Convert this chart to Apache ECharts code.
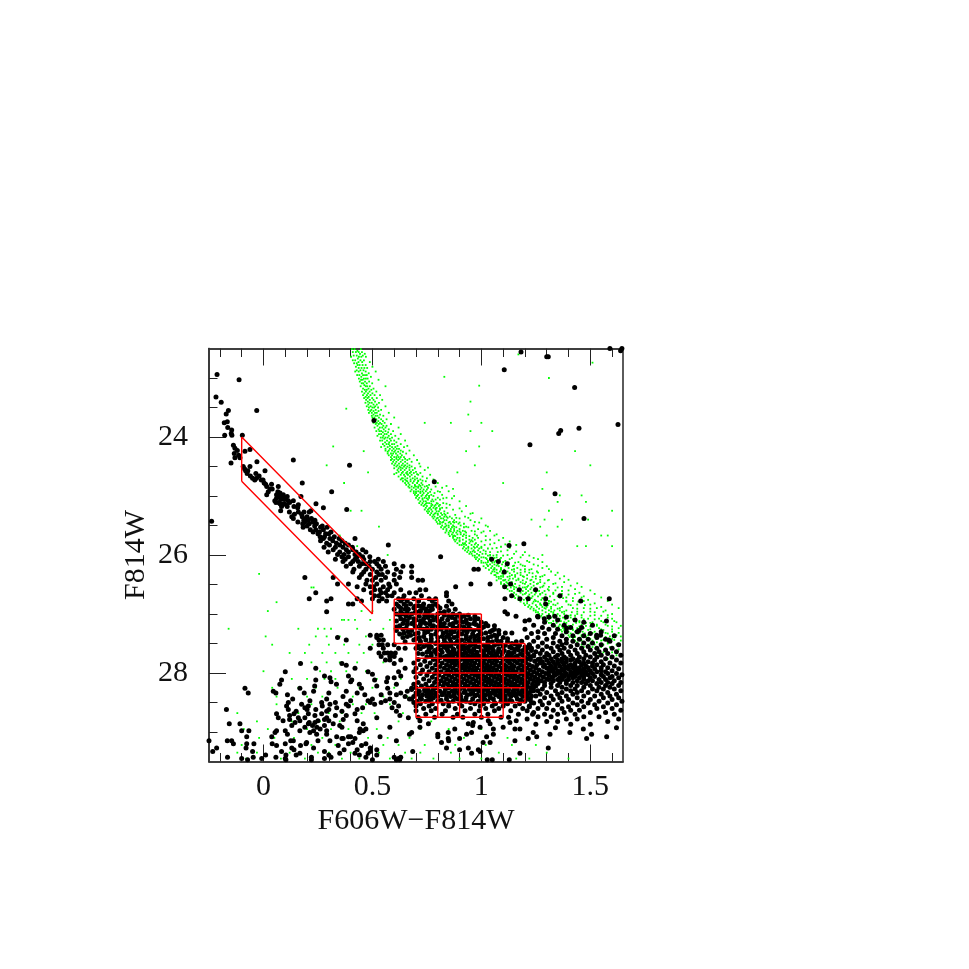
<!DOCTYPE html>
<html><head><meta charset="utf-8">
<style>html,body{margin:0;background:#fff}#c{width:969px;height:969px}</style>
<script src="https://cdn.jsdelivr.net/npm/echarts@6/dist/echarts.min.js"></script>
</head><body><div id="c"></div>
<script>
const xMajor=[0,0.5,1,1.5];
const xMinor=[-0.2,-0.1,0.1,0.2,0.3,0.4,0.6,0.7,0.8,0.9,1.1,1.2,1.3,1.4,1.6];
const yMajor=[24,26,28];
const yMinor=[23,23.5,24.5,25,25.5,26.5,27,27.5,28.5,29];
const xTitle='F606W\u2212F814W', yTitle='F814W';

// rows are [F814W, [F606W-F814W ...]]
const isolatedRows=[
[22.5,[1.59,1.645]],[22.54,[1.639]],[22.56,[1.182]],[22.64,[1.307,1.3]],[22.86,[1.105]],[23.16,[1.428]],[23.72,[.507]],[23.79,[1.627]],[23.85,[1.448]],[23.89,[1.364]],[23.94,[1.355]],[24.13,[1.223]],[24.76,[.784]],[24.96,[1.338]],[25.23,[.382]],[25.38,[1.471]],[25.43,[-.238]],[25.81,[1.195]],[25.84,[1.127]]
];
const plumeRows=[
[22.94,[-.213]],[23.03,[-.112]],[23.32,[-.218]],[23.41,[-.194]],[23.55,[-.161,-.031]],[23.61,[-.171]],[23.74,[-.166]],[23.76,[-.18]],[23.84,[-.164]],[23.88,[-.146]],[23.94,[-.148]],[23.97,[-.178,-.145,-.097]],
[24.14,[-.138]],[24.19,[-.131]],[24.21,[-.062]],[24.23,[-.12]],[24.24,[-.085]],[24.28,[-.134]],[24.31,[-.114]],[24.35,[-.131,-.108]],[24.39,[.137]],[24.42,[-.03]],[24.44,[-.149]],[24.48,[.395]],[24.5,[-.093,-.062]],[24.54,[-.087]],[24.57,[-.082,-.072,.007]],[24.62,[-.075,-.035]],[24.66,[-.06,-.02]],[24.7,[-.05,-.032]],[24.73,[-.04,-.01,-.002]],[24.78,[.003,.178]],[24.8,[.01,.037]],[24.84,[.015,.068]],[24.88,[.03,.04]],[24.93,[.022,.066,.313]],[24.95,[.076]],[24.98,[.015,.091,.06]],[25.01,[.109,.074,.172]],[25.04,[.06,.085,.1]],[25.06,[.08,.098]],[25.08,[.114,.137,.052]],[25.11,[.057,.07,.12]],[25.13,[.076,.094,.241]],[25.15,[.16,.105]],[25.18,[.083,.109,.14]],[25.2,[.275,.157]],[25.25,[.079,.218]],[25.27,[.119,.16,.186,.21]],[25.31,[.142,.175]],[25.35,[.13,.178,.2]],[25.38,[.137,.22,.195]],[25.41,[.185,.205,.236]],[25.44,[.158,.19,.226]],[25.47,[.18,.21,.243]],[25.51,[.2,.235,.27]],[25.53,[.182,.262,.292]],[25.57,[.215,.24,.275]],[25.61,[.228,.257,.31]],[25.64,[.25,.285,.3]],[25.69,[.26,.325,.28]],[25.72,[.275,.305,.347,.42]],[25.76,[.262,.318,.36]],[25.8,[.29,.335,.375]],[25.83,[.303,.35,.39,.573]],[25.87,[.278,.33,.365,.408]],[25.91,[.32,.38,.41,.455]],[25.95,[.297,.35,.39,.425,.47]],[25.99,[.34,.37,.42,.44]],[26.03,[.36,.39,.43,.455,.488,.813]],[26.07,[.33,.375,.42,.46,.527,1.047]]
];
const cloudRows=[
[26.11,[.365,.41,.435,.49,.51,.55,1.078]],[26.15,[.4,.452,.47,.52,.6,1.119]],[26.19,[.38,.44,.485,.53,.56,.64,.68]],[26.24,[.415,.47,.5,.54,.61,.966,.986]],[26.29,[.41,.46,.52,.57,.63,.68,1.105]],[26.33,[.45,.49,.53,.6,.545]],[26.38,[.19,.32,.44,.515,.56,.625,.68]],[26.43,[.475,.54,.5,.6,.73,.71]],[26.49,[.34,.39,.47,.52,.575,.61,.952,1.04,1.134]],[26.54,[.43,.49,.55,.58,.505,.882,1.107]],[26.59,[.46,.535,.51,.57,.63,.745,.718,1.174,1.249]],[26.64,[.24,.495,.54,.6,.56,.67,.7,.84]],[26.69,[.51,.57,.53,.59,.645,.725,.84,1.139,1.361]],[26.74,[.21,.31,.43,.5,.545,.62,.69,.64,.76,.79,1.177,1.215,1.295,1.108,1.587]],[26.78,[.29,.45,.53,.565,.63,.66,.712,.85,.775,1.456]],[26.83,[.39,.41,.61,.675,.735,.79,.865,.645,1.295]],[26.87,[.62,.695,.725,.76,.8,.84]],[26.92,[.6,.65,.665,.745,.88,.775]],[26.96,[.29,.63,.7,.72,.83,1.108]],[27.0,[.61,.64,.68,.755,.8,.87,.9,1.12]],[27.04,[.655,.715,.775,.85,.92,.97,1.159,1.258,1.337]],[27.08,[.63,.69,.735,.82,.88,.95,.985,1.289]],[27.12,[.61,.66,.72,.8,.765,.905,1.2,1.574]],[27.16,[.64,.68,.745,.83,.87,.935,.965,1.02]],[27.2,[.625,.695,.78,.81,.9,.99,1.06,1.03]],[27.24,[.655,.72,.75,.84,.885,.94,1.0,1.391]],[27.28,[.61,.68,.795,.86,.92,.965,1.05,1.08,1.448]],[27.32,[.645,.71,.74,.825,.895,1.02,1.11,1.14]],[27.36,[.49,.52,.54,.675,.77,.85,.93,.985,1.06,1.529,1.547]],[27.4,[.34,.52,.64,.715,.8,.875,.95,1.03,1.1]],[27.44,[.38,.53,.55,.69,.745,.83,.91,.97,1.07,1.585]],[27.47,[.65,.77,.86,.99,1.05,1.12,1.16]]
];
const upperExtraRows=[
[26.86,[.655,.71,.775]],[26.9,[.63,.735,.81,.69]],[26.94,[.72,.765,.85]],[26.98,[.66,.695,.745,.81]],[27.02,[.625,.74,.83,.89,.94]],[27.06,[.67,.755,.795,.865,.905]],[27.1,[.645,.7,.78,.845,.93,.97]],[27.14,[.69,.735,.81,.885,.915,1.0]],[27.18,[.66,.72,.765,.855,.945,.975]],[27.22,[.61,.7,.8,.825,.87,.92,1.01]],[27.26,[.64,.735,.77,.815,.9,.95,.985,1.06]],[27.3,[.665,.755,.84,.875,.935,.995,1.04]],[27.34,[.625,.695,.79,.86,.91,.96,1.0,1.08]],[27.38,[.66,.735,.82,.84,.89,.97,1.045,1.07]],[27.42,[.7,.77,.855,.93,.99,1.01,1.12]],[27.46,[.72,.8,.89,.945,1.03,1.09,1.185]],[27.51,[.76,.825,.9,.96,1.075,1.155]],[27.55,[.735,.85,.915,.975,1.02,1.1,1.17]],[27.58,[.7,.84,.93,1.05,1.14,1.21]],[27.61,[.76,.815,.875,.965,1.03,1.08,1.17]],[27.64,[.79,.85,.95,1.01,1.1,1.205]],[27.67,[.71,.77,.89,.93,1.045,1.14]],[27.7,[.81,.87,.915,.975,1.07,1.12,1.19]],[27.73,[.75,.83,.95,1.01,1.06,1.155,1.225]],[27.76,[.79,.86,.93,.99,1.04,1.13,1.21]],[28.3,[.74,.88,.96,1.0,1.12,1.24]],[28.33,[.77,.83,.92,1.06,1.15,1.2]],[28.36,[.71,.79,.9,.95,1.04,1.13,1.18]],[28.39,[.75,.84,.97,1.01,1.11,1.16,1.23]],[28.42,[.72,.78,.88,.93,1.04,1.09,1.21]],[28.46,[.76,.815,.91,1.0,1.13,1.18]],[28.5,[.69,.85,.95,1.06,1.11,1.23]]
];
const fieldRows=[
[27.52,[.53,.545,.57,.6]],[27.58,[.49,.55,.62,.65]],[27.66,[.53,.555,.57,.585,.605]],[27.72,[.54,.58,.6]],[27.78,[.56,.58,.63]],[27.84,[.17,.36,.6]],[27.87,[.38]],[27.92,[.24,.42,.65]],[27.98,[.10,.48,.62]],[28.02,[.50]],[28.05,[.28,.39,.63]],[28.08,[.305,.57,.6]],[28.12,[.083,.24,.405,.51]],[28.15,[.31,.40,.565]],[28.19,[.075,.335,.44,.61]],[28.22,[.235,.52]],[28.26,[-.085,.167,.45,.68,.57]],[28.31,[.045,.23,.38,.66]],[28.34,[-.07,.057,.187,.30,.43,.58,.63]],[28.37,[.11,.465,.61,.54]],[28.4,[.365,.65]],[28.44,[.134,.29,.58,.50,.67]],[28.47,[.213,.56,.48,.4]],[28.5,[.114,.267,.33,.49,.54,.6]],[28.53,[.175,.305,.38,.51]],[28.56,[.106,.206,.39,.62,.27]],[28.59,[.19,.336,.59,.455]],[28.62,[-.17,.114,.24,.3,.43,.2]],[28.65,[.15,.29,.36,.61]],[28.69,[.06,.206,.267,.42,.14]],[28.72,[.12,.236,.38,.626,.33]],[28.76,[.068,.16,.29,.52,.665,.19]],[28.79,[.12,.28,.366]],[28.81,[.09,.167,.25,.43,.718,1.032,1.16,.3]],[28.84,[.145,.236,.963,1.131,.21]],[28.86,[-.157,-.108,.206,.32,.458,.757,.94,1.04]],[28.89,[.13,.28,.35,.225,.96]],[28.92,[.245,.36,.58,.718,.994,1.10,.19]],[28.95,[.26,.443,.878,1.055,1.154,1.177,.47,1.468]],[28.98,[-.10,-.067,.06,.10,.167,.458,.23,.29]],[29.01,[.053,.213,.44,.68,.848,.955,1.238,1.406]],[29.04,[.11,.244,.29,.67,.80,.932,1.055,1.315,1.506]],[29.08,[-.077,.038,.336,.39,.535,.8,1.024,1.254,1.575,.4]],[29.11,[.366,.42,.848,.90,1.215,1.483,.36]],[29.15,[-.25,-.166,-.146,.137,.305,.25,.61,.85,1.154,.125]],[29.18,[.198,.41,.817,1.008,1.04]],[29.2,[-.138,-.077,-.044,.04,.195,.39,.47,.1]],[29.23,[.06,.343,.45,.17]],[29.27,[-.215,-.08,.13,.23,.49,.84,.94,1.307]],[29.3,[.14,.43,.52,.90,.986,.37]],[29.33,[-.233,-.05,.083,.28,.685,.994,.49]],[29.36,[.167,.35,.42,.955,1.177,.48]],[29.39,[.01,.103,.15,.30,.52,.44]],[29.43,[-.165,-.047,.057,.22,.47,.60,.63,.31]],[29.45,[-.10,-.008,.10,.28,.62]],[29.47,[-.073,.103,.22,.50,.61,.625,1.027,1.05,1.128]]
];
const coreRows=[
[27.5,[.72,.79,.84,.88,.925,.97,1.03,1.085,1.14]],[27.53,[.71,.75,.81,.86,.905,.95,1.01,1.06,1.11,1.175,1.22]],[27.56,[.77,.83,.895,.94,.99,1.04,1.13,1.2]],[27.59,[.72,.76,.8,.87,.915,.965,1.02,1.08,1.16]],[27.62,[.785,.845,.9,.945,1.0,1.055,1.105,1.19,1.23]],[27.65,[.75,.82,.865,.925,.98,1.035,1.075,1.125,1.15]],[27.68,[.73,.795,.88,.91,.96,1.01,1.065,1.095,1.18,1.215]],[27.71,[.77,.84,.855,.895,.94,.99,1.025,1.05,1.135,1.165,1.24]],[27.74,[.81,.87,.92,.965,1.0,1.045,1.085,1.115,1.2]],
[27.77,[.71,.78,.835,.885,.905,.945,.98,1.015,1.06,1.1,1.145,1.175,1.225,1.26]],[27.8,[.74,.8,.85,.875,.925,.955,.995,1.035,1.07,1.12,1.155,1.19,1.245]],[27.83,[.69,.765,.82,.865,.895,.935,.97,1.01,1.05,1.09,1.13,1.165,1.205,1.27]],[27.86,[.72,.79,.84,.88,.915,.95,.99,1.025,1.065,1.105,1.14,1.18,1.22,1.255]],[27.89,[.75,.81,.855,.9,.93,.965,1.005,1.04,1.08,1.115,1.15,1.195,1.235,1.285]],[27.92,[.7,.775,.83,.87,.91,.945,.98,1.02,1.055,1.095,1.13,1.17,1.21,1.25,1.3]],[27.95,[.73,.795,.845,.885,.925,.96,1.0,1.035,1.07,1.11,1.145,1.185,1.225,1.265,1.32]],[27.98,[.69,.76,.815,.86,.9,.94,.975,1.015,1.05,1.09,1.125,1.16,1.2,1.24,1.28,1.31]],[28.01,[.72,.785,.835,.875,.915,.955,.99,1.03,1.065,1.105,1.14,1.18,1.215,1.255,1.295,1.335]],[28.04,[.75,.805,.85,.89,.93,.97,1.005,1.045,1.08,1.12,1.155,1.195,1.23,1.27,1.31]],[28.07,[.7,.775,.825,.865,.905,.945,.985,1.02,1.06,1.095,1.135,1.17,1.21,1.245,1.285,1.325]],[28.1,[.735,.795,.84,.88,.92,.96,1.0,1.035,1.075,1.11,1.15,1.185,1.225,1.26,1.3]],[28.13,[.76,.815,.855,.895,.935,.975,1.015,1.05,1.09,1.125,1.165,1.2,1.24,1.275]],[28.16,[.71,.785,.83,.87,.91,.95,.99,1.03,1.065,1.105,1.14,1.18,1.215,1.255]],[28.19,[.69,.745,.805,.845,.885,.925,.965,1.005,1.045,1.08,1.12,1.155,1.195,1.235]],[28.22,[.725,.775,.825,.865,.9,.94,.98,1.02,1.06,1.095,1.135,1.17,1.21,1.25]],[28.25,[.7,.755,.795,.85,.88,.92,.96,.995,1.035,1.075,1.11,1.15,1.19,1.225]],[28.28,[.68,.74,.78,.835,.9,.945,.975,1.015,1.055,1.09,1.125,1.165,1.205]],[28.31,[.715,.76,.81,.865,.925,.99,1.03,1.07,1.105,1.145,1.185,1.23]],[28.34,[.7,.75,.79,.85,.895,.96,1.005,1.045,1.085,1.125,1.17]],[28.37,[.73,.77,.82,.875,.935,.98,1.02,1.065,1.1,1.15,1.21]],[28.4,[.69,.755,.8,.86,.905,.995,1.04,1.08,1.135,1.19]],[28.44,[.68,.725,.77,.84,.89,.96,1.015,1.055,1.11,1.165,1.225]],[28.48,[.705,.745,.8,.87,.93,.985,1.03,1.09,1.14,1.2]],[28.52,[.72,.775,.825,.9,.97,1.01,1.065,1.12,1.175]],[28.56,[.7,.76,.85,.91,.995,1.05,1.1,1.155,1.22]],[28.6,[.735,.79,.88,.95,1.02,1.08,1.19]],[28.64,[.7,.77,.835,.925,.99,1.06,1.135,1.21]],[28.7,[.745,.82,.89,.97,1.03,1.17,1.235]],[28.75,[.71,.785,.87,.915,1.0,1.09,1.125]]
];
const redClumpRows=[
[27.05,[1.26,1.39,1.31]],[27.1,[1.43,1.22,1.35]],[27.14,[1.29,1.47]],[27.19,[1.24,1.38,1.33,1.51]],[27.23,[1.41,1.28,1.46]],[27.26,[1.2,1.35,1.31]],[27.3,[1.44,1.26,1.39,1.55]],[27.33,[1.23,1.5,1.34,1.29]],[27.37,[1.42,1.37,1.61,1.47]],[27.4,[1.26,1.33,1.21,1.53]],[27.43,[1.39,1.3,1.45,1.57,1.49]],[27.46,[1.24,1.36,1.42,1.59]],[27.49,[1.51,1.28,1.33,1.47,1.39]],[27.52,[1.22,1.44,1.37,1.55,1.63]],[27.55,[1.3,1.26,1.41,1.49,1.35]],[27.58,[1.53,1.46,1.23,1.38,1.6,1.32]],[27.61,[1.43,1.28,1.5,1.36,1.57]],[27.64,[1.25,1.4,1.33,1.47,1.54,1.62]],[27.67,[1.3,1.44,1.52,1.37,1.27,1.58]],[27.7,[1.35,1.24,1.48,1.41,1.55,1.64,1.31]],[27.73,[1.38,1.45,1.29,1.53,1.34,1.6,1.5]],[27.76,[1.32,1.42,1.27,1.57,1.47,1.37,1.39]],[27.78,[1.52,1.44,1.35,1.3,1.62,1.41]],[27.81,[1.49,1.33,1.39,1.55,1.28,1.45,1.37]],[27.83,[1.43,1.31,1.59,1.35,1.51,1.64,1.47]],[27.86,[1.41,1.34,1.53,1.38,1.29,1.46,1.56]],[27.88,[1.32,1.48,1.36,1.43,1.61,1.4,1.51]],[27.91,[1.55,1.39,1.31,1.45,1.34,1.49,1.42,1.58]],[27.93,[1.37,1.47,1.33,1.52,1.4,1.63,1.44]],[27.96,[1.35,1.5,1.43,1.38,1.55,1.46,1.6]],[27.98,[1.41,1.33,1.48,1.36,1.57,1.45,1.53]],[28.01,[1.39,1.51,1.35,1.44,1.62,1.47,1.58,1.42]],[28.03,[1.37,1.46,1.55,1.34,1.41,1.49,1.645]],[28.06,[1.43,1.38,1.52,1.33,1.47,1.6,1.4,1.56]],[28.08,[1.36,1.45,1.59,1.5,1.42,1.63]],[28.11,[1.4,1.31,1.54,1.37,1.47,1.57,1.35]],[28.13,[1.44,1.33,1.51,1.61,1.39,1.49]],[28.16,[1.29,1.42,1.36,1.55,1.46,1.64,1.58]],[28.18,[1.32,1.48,1.39,1.53,1.26,1.6]],[28.21,[1.44,1.35,1.57,1.41,1.5,1.29,1.63]],[28.24,[1.37,1.24,1.54,1.47,1.32,1.59]],[28.27,[1.43,1.28,1.39,1.61,1.51,1.56]],[28.3,[1.34,1.46,1.26,1.53,1.41,1.64]],[28.33,[1.3,1.49,1.37,1.58,1.22,1.44]],[28.36,[1.55,1.27,1.42,1.35,1.62]],[28.39,[1.47,1.32,1.25,1.39,1.59,1.52]],[28.42,[1.44,1.29,1.36,1.63,1.56]],[28.45,[1.22,1.4,1.5,1.33,1.6]],[28.48,[1.46,1.27,1.37,1.54,1.645]],[28.51,[1.31,1.42,1.24,1.58,1.49]],[28.54,[1.35,1.52,1.28,1.44,1.62]],[28.57,[1.4,1.22,1.47,1.56]],[28.6,[1.3,1.37,1.26,1.53,1.6]],[28.63,[1.45,1.33,1.41,1.64]],[28.67,[1.24,1.5,1.38,1.57]],[28.7,[1.29,1.43,1.35,1.61]],[28.74,[1.47,1.26,1.54,1.32]],[28.78,[1.39,1.21,1.44,1.63]],[28.82,[1.3,1.35,1.58]],[28.87,[1.25,1.41,1.5]],[28.93,[1.34,1.62]]
];
const greenBandRows=[
[22.51,[.418,.447,.406]],[22.54,[.431]],[22.56,[.452,.41,.437,.424]],[22.59,[.443,.465]],[22.62,[.414,.428,.456]],[22.64,[.402,.438,.47,.449]],[22.67,[.433]],[22.7,[.421,.461,.445,.41]],[22.73,[.453,.436,.488]],[22.75,[.416,.428]],[22.78,[.441,.469,.455,.432]],[22.81,[.424,.5]],[22.83,[.45,.437,.476,.463]],[22.87,[.428,.459,.445]],[22.89,[.469,.437,.515,.421]],[22.92,[.452,.483]],[22.95,[.44,.466,.474,.457,.43]],[22.98,[.493,.449]],[23.01,[.438,.461,.478,.47]],[23.03,[.455,.448,.528]],[23.06,[.485,.442,.466]],[23.09,[.474,.458,.499,.451]],[23.12,[.463]],[23.14,[.446,.488,.476,.56,.469]],[23.18,[.457,.505,.482]],[23.2,[.465,.495,.474]],[23.23,[.452,.487,.518,.47]],[23.26,[.5,.463,.48]],[23.29,[.457,.491,.475,.535,.51]],[23.32,[.469,.483]],[23.34,[.499,.462,.52,.478]],[23.37,[.488,.505,.471,.545]],[23.4,[.479,.512]],[23.42,[.468,.497,.53,.487]],[23.45,[.505,.481,.52]],[23.48,[.474,.492,.56,.513]],[23.5,[.526,.5,.484,.508]],[23.54,[.481,.54,.515,.495]],[23.56,[.505,.528,.49]],[23.59,[.52,.497,.512,.575,.484]],[23.62,[.505,.535]],[23.64,[.497,.55,.523,.515]],[23.67,[.53,.509,.5,.6]],[23.7,[.54,.518,.565,.503]],[23.73,[.527,.51,.548]],[23.76,[.556,.505,.535,.52]],[23.78,[.542,.515,.585,.529]],[23.81,[.55,.523,.565]],[23.84,[.534,.51,.56,.545,.62]],[23.87,[.575,.528,.552]],[23.9,[.518,.56,.54,.595,.532]],[23.92,[.572,.548]],[23.95,[.53,.565,.585,.54,.556,.63]],[23.98,[.55,.605,.523,.575]],[24.01,[.56,.538,.59,.57,.547]],[24.03,[.58,.62,.555]],[24.06,[.545,.6,.567,.585,.65,.535]],[24.09,[.577,.558,.61]],[24.12,[.59,.548,.565,.63,.6,.575]],[24.15,[.58,.555,.66,.615]],[24.17,[.605,.57,.59,.54,.645]],[24.2,[.56,.622,.597,.58,.612]],[24.23,[.63,.575,.59,.56,.67,.605]],[24.25,[.6,.64,.57,.618]],[24.28,[.585,.628,.608,.57,.655,.595]],[24.31,[.615,.59,.635,.575,.69]],[24.34,[.6,.645,.62,.585,.63,.61]],[24.37,[.65,.59,.61,.67,.625]],[24.39,[.638,.6,.585,.618,.705,.66]],[24.42,[.61,.63,.65,.595,.68]],[24.45,[.622,.605,.66,.64,.715,.59]],[24.48,[.67,.615,.635,.65,.6]],[24.5,[.625,.68,.645,.61,.72,.66]],[24.53,[.655,.62,.695,.638,.6]],[24.56,[.67,.615,.648,.63,.74,.685]],[24.59,[.66,.64,.7,.62,.677]],[24.61,[.635,.69,.655,.72,.672,.61]],[24.64,[.645,.68,.63,.71,.765,.663]],[24.67,[.695,.65,.62,.73,.672]],[24.7,[.66,.705,.635,.685,.75,.64]],[24.72,[.675,.65,.72,.695,.63,.78]],[24.75,[.69,.66,.71,.745,.64,.675]],[24.78,[.705,.665,.65,.725,.8,.685]],[24.81,[.67,.73,.695,.655,.76,.715]],[24.84,[.74,.68,.71,.665,.79,.7]],[24.86,[.69,.725,.755,.67,.82,.71]],[24.89,[.735,.7,.68,.77,.72,.75]],[24.92,[.71,.69,.745,.8,.73,.85,.675]],[24.95,[.755,.72,.7,.735,.785,.69]],[24.98,[.73,.77,.71,.75,.695,.82]],[25.0,[.745,.705,.78,.725,.875,.76]],[25.03,[.715,.8,.74,.76,.7,.84]],[25.06,[.775,.73,.755,.71,.81,.79]],[25.09,[.745,.72,.78,.77,.9,.735]],[25.12,[.76,.825,.73,.795,.715,.75]],[25.15,[.79,.74,.775,.725,.855,.81]],[25.17,[.75,.805,.77,.735,.93,.785]],[25.2,[.82,.765,.745,.795,.84,.78]],[25.23,[.755,.81,.79,.74,.87,.77]],[25.26,[.83,.775,.805,.76,.75,.91,.795]],[25.29,[.79,.845,.77,.815,.96,.755]],[25.32,[.8,.765,.835,.78,.88,.82]],[25.35,[.855,.785,.81,.775,.925,.84,.83]],[25.38,[.795,.825,.865,.78,.9,.815,1.0]],[25.41,[.84,.805,.79,.875,.83,.95]],[25.44,[.81,.855,.795,.885,.825,.97,.87]],[25.47,[.835,.895,.81,.86,.8,.92]],[25.5,[.87,.82,.85,.905,.84,1.02,.965]],[25.53,[.83,.885,.815,.865,.94,.92,.85]],[25.56,[.9,.84,.875,.825,.985,.86]],[25.59,[.855,.915,.84,.89,.955,.875,1.04]],[25.62,[.87,.835,.93,.905,.85,1.0,.885]],[25.65,[.92,.865,.89,.85,.97,.905,1.07]],[25.68,[.88,.945,.855,.915,.87,1.02]],[25.71,[.93,.9,.87,.96,.89,.985,1.1]],[25.74,[.875,.945,.915,.885,1.04,.97]],[25.77,[.9,.96,.88,.93,1.0,.95,1.13]],[25.8,[.975,.915,.89,.945,1.06,.925]],[25.83,[.9,.955,1.015,.93,.985,.91,1.16]],[25.86,[.965,.92,1.0,.94,1.09,.98]],[25.89,[.93,1.03,.955,.99,.915,1.05]],[25.92,[.985,.94,1.01,.965,1.12,.925]],[25.95,[1.04,.95,.995,.935,1.075,.97,1.2]],[25.98,[.98,1.02,.955,1.005,1.15,.945]],[26.01,[1.055,.97,.99,.96,1.1,1.03,1.22]],[26.04,[1.01,.98,1.04,.97,1.18,1.07,1.0]],[26.07,[1.025,1.085,.99,1.05,1.13,.975,1.26]],[26.1,[1.0,1.065,1.03,1.11,.985,1.21,1.045]],[26.13,[1.08,1.01,1.05,1.155,1.02,1.125,1.0]],[26.16,[1.025,1.095,1.06,1.24,1.04,1.18,1.075]],[26.19,[1.11,1.03,1.08,1.01,1.2,1.145,1.05,1.3]],[26.22,[1.045,1.125,1.09,1.06,1.165,1.28,1.02]],[26.25,[1.07,1.14,1.035,1.105,1.22,1.18,1.055,1.09]],[26.28,[1.15,1.06,1.12,1.085,1.32,1.05,1.2,1.255]],[26.31,[1.095,1.045,1.165,1.13,1.075,1.235,1.11]],[26.34,[1.065,1.18,1.14,1.1,1.29,1.06,1.21,1.155,1.34]],[26.37,[1.12,1.08,1.195,1.155,1.27,1.07,1.235,1.1]],[26.4,[1.09,1.21,1.13,1.17,1.36,1.08,1.25,1.145]],[26.43,[1.225,1.105,1.16,1.07,1.305,1.19,1.125,1.1]],[26.46,[1.14,1.24,1.09,1.18,1.27,1.115,1.38,1.205]],[26.49,[1.105,1.2,1.155,1.33,1.255,1.09,1.225,1.13]],[26.52,[1.175,1.12,1.285,1.215,1.145,1.41,1.1,1.24]],[26.55,[1.135,1.23,1.19,1.35,1.16,1.11,1.27,1.2]],[26.58,[1.25,1.15,1.205,1.12,1.305,1.18,1.43,1.225]],[26.61,[1.165,1.215,1.13,1.265,1.37,1.19,1.14,1.29]],[26.64,[1.23,1.28,1.15,1.18,1.33,1.25,1.45,1.205]],[26.67,[1.19,1.14,1.295,1.245,1.16,1.4,1.22,1.27]],[26.7,[1.26,1.17,1.215,1.35,1.15,1.315,1.235,1.47]],[26.73,[1.18,1.3,1.23,1.155,1.28,1.42,1.205,1.375]],[26.76,[1.275,1.195,1.335,1.245,1.17,1.49,1.3,1.22]],[26.79,[1.21,1.32,1.26,1.18,1.39,1.29,1.445,1.24]],[26.82,[1.29,1.235,1.195,1.35,1.27,1.52,1.21,1.31]],[26.85,[1.25,1.305,1.22,1.41,1.34,1.2,1.475,1.275]],[26.88,[1.32,1.23,1.28,1.37,1.215,1.3,1.55,1.255]],[26.91,[1.265,1.35,1.24,1.44,1.295,1.32,1.225,1.5]],[26.94,[1.335,1.28,1.25,1.39,1.31,1.24,1.57,1.36]],[26.97,[1.295,1.26,1.37,1.47,1.33,1.415,1.25,1.52]],[27.0,[1.35,1.28,1.31,1.44,1.265,1.38,1.6,1.33]],[27.03,[1.3,1.4,1.345,1.275,1.5,1.36,1.43,1.55]],[27.06,[1.375,1.29,1.32,1.46,1.41,1.28,1.34,1.58]],[27.09,[1.31,1.42,1.355,1.52,1.29,1.385,1.47]],[27.12,[1.4,1.33,1.3,1.45,1.365,1.61,1.55]],[27.15,[1.345,1.435,1.31,1.5,1.39,1.32,1.48]],[27.18,[1.42,1.36,1.57,1.33,1.46,1.38,1.53]],[27.21,[1.37,1.45,1.34,1.41,1.6,1.5,1.355]],[27.24,[1.44,1.39,1.35,1.54,1.47,1.375,1.63]],[27.27,[1.38,1.49,1.42,1.365,1.56,1.45]],[27.3,[1.465,1.4,1.37,1.52,1.43,1.6]],[27.33,[1.41,1.5,1.385,1.445,1.58,1.475]],[27.36,[1.49,1.42,1.4,1.54,1.46,1.62]],[27.39,[1.43,1.52,1.405,1.48,1.57]],[27.42,[1.5,1.445,1.42,1.6,1.53]],[27.45,[1.46,1.55,1.43,1.51,1.64]],[27.48,[1.53,1.47,1.44,1.58]],[27.52,[1.49,1.56,1.46,1.62,1.52]],[27.56,[1.51,1.59,1.47,1.55]],[27.6,[1.57,1.5,1.53,1.63]],[27.65,[1.52,1.6,1.56]],[27.7,[1.54,1.62]],[27.76,[1.58]]
];
const greenExtraRows=[
[24.52,[.63,.67,.755]],[24.63,[.66,.705,.6]],[24.74,[.71,.655,.73]],[24.83,[.695,.75,.84,.72]],[24.93,[.72,.765,.81,.7]],[25.04,[.75,.73,.825,.865]],[25.13,[.77,.745,.84,.8]],[25.21,[.81,.76,.9,.79]],[25.3,[.83,.785,.8,.95]],[25.37,[.845,.8,.885,.94]],[25.45,[.85,.82,.9,.99,.875]],[25.52,[.875,.835,.93,1.03]],[25.6,[.9,.86,.925,.97,1.01]],[25.67,[.93,.875,.98,1.06]],[25.75,[.955,.9,1.02,1.08]],[25.82,[.97,.92,1.04,1.11]],[25.88,[1.0,.94,1.07,1.13,.97]],[25.94,[1.02,.96,1.09,1.16]],[26.0,[1.04,.99,1.12,1.19,1.07]],[26.05,[1.06,1.02,1.14,1.09,1.24]],[26.12,[1.1,1.03,1.17,1.06,1.22,1.28]],[26.18,[1.12,1.07,1.19,1.03,1.26,1.15]],[26.24,[1.15,1.09,1.23,1.06,1.31,1.2]],[26.3,[1.18,1.11,1.07,1.26,1.35,1.22]],[26.36,[1.19,1.13,1.09,1.28,1.38,1.25]],[26.42,[1.23,1.17,1.11,1.31,1.27,1.4]],[26.48,[1.26,1.19,1.12,1.34,1.29,1.44]],[26.54,[1.28,1.21,1.15,1.37,1.31,1.46]],[26.6,[1.31,1.24,1.17,1.4,1.34,1.5]],[26.66,[1.33,1.27,1.2,1.43,1.37,1.52]],[26.72,[1.36,1.29,1.22,1.46,1.39,1.55]],[26.78,[1.39,1.31,1.25,1.47,1.42,1.58]],[26.84,[1.4,1.33,1.27,1.5,1.44,1.6]],[26.9,[1.42,1.36,1.29,1.53,1.47,1.63]],[26.96,[1.44,1.38,1.32,1.56,1.5]],[27.02,[1.46,1.41,1.33,1.58,1.52]],[27.08,[1.49,1.43,1.36,1.6,1.54]],[27.14,[1.51,1.45,1.38,1.62,1.56]],[27.2,[1.53,1.48,1.4,1.64,1.58]],[27.26,[1.55,1.5,1.42,1.6]],[27.32,[1.57,1.51,1.45,1.63]],[27.38,[1.59,1.53,1.46,1.64]],[27.44,[1.61,1.56,1.49]],[27.5,[1.63,1.58,1.5]]
];
const greenFieldRows=[
[22.6,[1.17]],[22.74,[1.51]],[22.98,[.83]],[23.0,[1.31]],[23.13,[.99]],[23.4,[.95]],[23.52,[.38]],[23.62,[.94]],[23.76,[.74,1.0,.86]],[23.9,[1.05,.95]],[24.16,[.32,.99]],[24.24,[.46,.93,1.43]],[24.48,[.29,.97,1.5]],[24.6,[.48,1.3,.89]],[24.78,[.37,1.1]],[24.88,[1.28,.87]],[24.99,[1.36,1.46]],[25.1,[1.35,1.48]],[25.25,[.4,.45,1.31,1.6]],[25.4,[1.23,1.29,1.49,1.37]],[25.52,[.53,1.27,1.35]],[25.67,[.35,1.55,1.58,1.3]],[25.85,[.43,1.48,1.44,1.6]],[26.0,[.57,1.28]],[26.32,[-.02]],[26.55,[.22,.23]],[26.8,[.06,.66]],[26.95,[.02,.5,.45]],[27.1,[.37,.36,.39,.42,.49,.58]],[27.25,[-.16,.16,.25,.28,.31,.43,.55,.6]],[27.38,[.01,.24,.29,.35,.47,.53,.65]],[27.52,[.04,.21,.3,.37,.44,.5,.57]],[27.66,[.12,.19,.27,.33,.39,.46]],[27.82,[.17,.22,.29,.35,.43,.55]],[27.97,[.0,.1,.26,.31,.38,.47]],[28.1,[.13,.2,.28,.33,.41,.52,.63]],[28.25,[.04,.16,.24,.34,.44,.5,.6]],[28.4,[.06,.2,.27,.37,.41,.55,.66]],[28.53,[.06,.22,.31,.41,.47,.58,.7]],[28.68,[-.12,.16,.3,.36,.45,.51,.64]],[28.82,[-.03,.13,.26,.35,.43,.62,.77]],[28.95,[-.09,.02,.2,.31,.39,.52,.72,.85,1.0]],[29.1,[-.02,.05,.14,.27,.36,.48,.57,.67,.8,.92,1.12]],[29.22,[-.1,.1,.22,.33,.46,.55,.62,.74,.88,1.02,1.14,1.25]],[29.35,[-.12,-.03,.12,.25,.3,.4,.53,.65,.72,.86,.96,1.08,1.3]],[29.45,[-.08,.08,.19,.36,.44,.58,.68,.78,.9,1.0,1.16,1.22,1.4]]
];
// red selection boxes: [x1, y1, x2, y2]
const redEdges=[
[-.1,24,.5,26.25],[.5,26.25,.5,27],[.5,27,-.1,24.75],[-.1,24.75,-.1,24],
[.6,26.75,.8,26.75],[.6,27,1,27],[.6,27.25,1,27.25],[.6,27.5,1.2,27.5],[.7,27.75,1.2,27.75],[.7,28,1.2,28],[.7,28.25,1.2,28.25],[.7,28.5,1.2,28.5],[.7,28.75,1.1,28.75],
[.6,26.75,.6,27.5],[.7,26.75,.7,28.75],[.8,26.75,.8,28.75],[.9,27,.9,28.75],[1,27,1,28.75],[1.1,27.5,1.1,28.75],[1.2,27.5,1.2,28.5]
];
const expand=rows=>rows.flatMap(([y,xs])=>xs.map(x=>[x,y]));
const black=[...expand(isolatedRows),...expand(plumeRows),...expand(cloudRows),...expand(upperExtraRows),...expand(fieldRows),...expand(coreRows),...expand(redClumpRows)];
const green=[...expand(greenBandRows),...expand(greenExtraRows),...expand(greenFieldRows)];
const redPath=redEdges.flatMap(([a,b,c,d])=>[[a,b],[c,d],[null,null]]);

const XR={min:-0.25,max:1.65},YR={min:22.5,max:29.5,inverse:true};
const frame={show:true,onZero:false,lineStyle:{color:'#333',width:1.6}};
const tick=(vals,len)=>({show:vals.length>0,inside:true,length:len,customValues:vals,lineStyle:{color:'#222',width:1}});
const textS={fontFamily:'Liberation Serif',fontSize:30,color:'#111'};
const xa=(pos,vals,len,labels)=>({type:'value',position:pos,...XR,axisLine:frame,splitLine:{show:false},axisTick:tick(vals,len),
  axisLabel:labels?{show:true,customValues:xMajor,margin:11,...textS}:{show:false}});
const ya=(pos,vals,len,labels)=>({type:'value',position:pos,...YR,axisLine:frame,splitLine:{show:false},axisTick:tick(vals,len),
  axisLabel:labels?{show:true,customValues:yMajor,margin:21,...textS,padding:[5,0,0,0]}:{show:false}});
const x0=xa('bottom',xMajor,17,true);
x0.name=xTitle;x0.nameLocation='middle';x0.nameGap=45;x0.nameTextStyle=textS;
const y0=ya('left',yMajor,17,true);
y0.name=yTitle;y0.nameLocation='middle';y0.nameGap=58;y0.nameTextStyle=textS;y0.nameRotate=90;
const option={animation:false,backgroundColor:'#fff',
 grid:{left:209,top:348.5,width:414,height:413,containLabel:false},
 xAxis:[x0,xa('bottom',xMinor,8.5),xa('top',xMajor,17),xa('top',xMinor,8.5)],
 yAxis:[y0,ya('left',yMinor,8.5),ya('right',[],0)],
 series:[
  {type:'scatter',data:green,symbol:'rect',symbolSize:1.8,itemStyle:{color:'#00ff00',opacity:1},z:1,clip:true,silent:true},
  {type:'scatter',data:black,symbolSize:5,itemStyle:{color:'#000',opacity:1},z:2,clip:false,silent:true},
  {type:'line',data:redPath,showSymbol:false,symbol:'none',connectNulls:false,lineStyle:{color:'#ff0000',width:1.4},z:3,clip:false,silent:true}
 ]};
const chart=echarts.init(document.getElementById('c'),null,{renderer:'canvas'});
chart.setOption(option);
</script></body></html>
